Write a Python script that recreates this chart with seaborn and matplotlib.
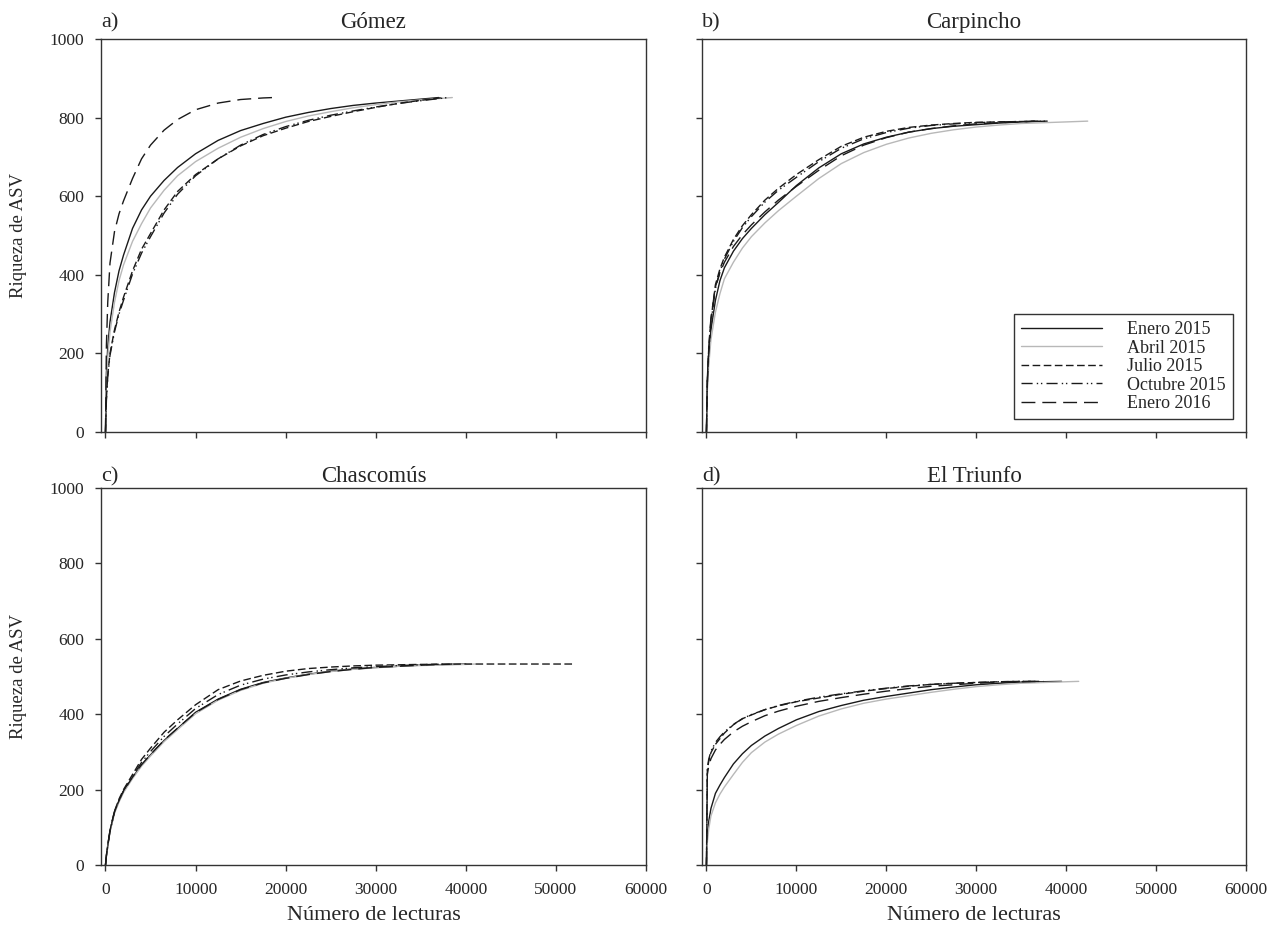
import pandas as pd
import seaborn as sns
import matplotlib.pyplot as plt

sns.set_style("white")
plt.rcParams['font.family'] = ['Liberation Serif', 'DejaVu Serif']

###----- Data -----###
# common read-out grid (number of reads); each curve keeps the points up to its
# own sampling depth, then ends at (end_x, final richness of the site)
grid_x = [0, 100, 250, 500, 1000, 1500, 2000, 3000, 4000, 5000, 6500, 8000, 10000,
          12500, 15000, 17500, 20000, 22500, 25000, 27500, 30000, 32500, 35000,
          40000, 45000, 50000]

samples = ['Enero 2015', 'Abril 2015', 'Julio 2015', 'Octubre 2015', 'Enero 2016']
sites = ['Gómez', 'Carpincho', 'Chascomús', 'El Triunfo']
panel_tags = ['a)', 'b)', 'c)', 'd)']
final_rich = [851, 791, 533, 487]

# a) Gómez
gom_ene15 = [0, 150, 216, 280, 355, 410, 450, 518, 565, 600, 640, 673, 708, 742, 767, 785, 801, 813, 823, 831, 837, 842, 847]
gom_abr15 = [0, 120, 190, 255, 330, 385, 425, 485, 530, 570, 615, 652, 688, 722, 750, 772, 790, 804, 815, 825, 833, 840, 845]
gom_jul15 = [0, 85, 145, 200, 260, 305, 343, 410, 465, 505, 565, 612, 655, 695, 728, 754, 773, 790, 803, 815, 826, 836, 844]
gom_oct15 = [0, 80, 140, 195, 255, 300, 335, 402, 455, 497, 557, 605, 652, 695, 730, 757, 777, 793, 806, 817, 827, 836, 843]
gom_ene16 = [0, 220, 330, 430, 510, 555, 588, 645, 695, 730, 768, 795, 820, 837, 846, 850]
gom_end = [37000, 38500, 37500, 38000, 18600]

# b) Carpincho
car_ene15 = [0, 120, 190, 260, 335, 385, 418, 460, 492, 518, 553, 584, 627, 672, 708, 733, 750, 763, 772, 778, 782, 786, 789]
car_abr15 = [0, 105, 168, 235, 305, 352, 390, 432, 468, 497, 532, 563, 600, 645, 683, 711, 732, 748, 760, 769, 776, 781, 785, 789]
car_jul15 = [0, 135, 210, 285, 375, 415, 445, 490, 525, 553, 590, 620, 655, 693, 727, 750, 765, 775, 781, 785, 788, 789, 790]
car_oct15 = [0, 125, 200, 278, 365, 408, 440, 485, 520, 548, 585, 615, 648, 688, 722, 746, 762, 773, 780, 784, 787, 789, 790]
car_ene16 = [0, 140, 215, 290, 370, 405, 432, 472, 502, 527, 560, 590, 625, 666, 703, 730, 749, 763, 772, 779, 784, 787, 789]
car_end = [37900, 42400, 37000, 38000, 36500]

# c) Chascomús
chas_ene15 = [0, 25, 50, 90, 140, 170, 195, 232, 265, 292, 330, 362, 405, 440, 466, 484, 496, 506, 514, 520, 524, 527, 530]
chas_abr15 = [0, 22, 48, 88, 137, 167, 192, 229, 262, 289, 327, 359, 401, 437, 463, 482, 495, 505, 513, 519, 523, 527, 529, 532]
chas_jul15 = [0, 25, 52, 92, 143, 175, 200, 240, 280, 310, 352, 385, 425, 465, 488, 503, 514, 521, 525, 528, 530, 531, 532, 533, 533, 533]
chas_oct15 = [0, 24, 50, 90, 141, 172, 197, 236, 272, 301, 341, 374, 415, 452, 477, 493, 504, 512, 518, 523, 526, 529, 531]
chas_ene16 = [0, 26, 52, 92, 142, 171, 196, 233, 266, 293, 331, 363, 404, 439, 465, 483, 495, 505, 513, 519, 524, 527, 530]
chas_end = [40000, 41000, 51800, 37500, 38500]

# d) El Triunfo
tri_ene15 = [0, 80, 115, 150, 190, 212, 232, 268, 295, 317, 342, 362, 385, 407, 423, 437, 447, 456, 465, 472, 478, 482, 485]
tri_abr15 = [0, 60, 95, 130, 165, 188, 207, 240, 272, 298, 326, 347, 370, 395, 414, 429, 440, 449, 458, 466, 473, 478, 482, 486]
tri_jul15 = [0, 250, 275, 298, 320, 335, 350, 372, 388, 398, 412, 422, 433, 443, 453, 461, 468, 474, 479, 482, 484, 486, 487]
tri_oct15 = [0, 255, 280, 302, 325, 340, 353, 373, 388, 399, 412, 423, 434, 445, 454, 462, 469, 475, 479, 482, 484, 486, 487]
tri_ene16 = [0, 240, 262, 282, 305, 320, 333, 353, 368, 380, 396, 408, 421, 434, 444, 453, 461, 468, 474, 478, 482, 485, 486]
tri_end = [39500, 41400, 36500, 37500, 37000]

curves = [
    [gom_ene15, gom_abr15, gom_jul15, gom_oct15, gom_ene16],
    [car_ene15, car_abr15, car_jul15, car_oct15, car_ene16],
    [chas_ene15, chas_abr15, chas_jul15, chas_oct15, chas_ene16],
    [tri_ene15, tri_abr15, tri_jul15, tri_oct15, tri_ene16],
]
ends = [gom_end, car_end, chas_end, tri_end]

###----- Build long table -----###
rows = []
for p, site in enumerate(sites):
    for s, sample in enumerate(samples):
        ys = curves[p][s] + [final_rich[p]]
        xs = grid_x[:len(curves[p][s])] + [ends[p][s]]
        for k, (x, y) in enumerate(zip(xs, ys)):
            rows.append({'site': site, 'muestra': sample, 'order': k, 'lecturas': x, 'riqueza': y})
df = pd.DataFrame(rows)

palette = {'Enero 2015': '#1a1a1a', 'Abril 2015': '#b8b8b8', 'Julio 2015': '#1a1a1a',
           'Octubre 2015': '#1a1a1a', 'Enero 2016': '#1a1a1a'}
dashes = {'Enero 2015': '', 'Abril 2015': '', 'Julio 2015': (5.5, 2.5),
          'Octubre 2015': (8, 3, 1, 2, 1, 3), 'Enero 2016': (10, 5)}

###----- Figure -----###
fig = plt.figure(figsize=(12.8, 9.33), dpi=100)
positions = [[0.0789, 0.5370, 0.4258, 0.4212],
             [0.5484, 0.5370, 0.4250, 0.4212],
             [0.0789, 0.0729, 0.4258, 0.4041],
             [0.5484, 0.0729, 0.4250, 0.4041]]
title_pad = [8, 8, 4.5, 4.5]

for i, site in enumerate(sites):
    ax = fig.add_axes(positions[i])
    sub = df[df['site'] == site]
    sns.lineplot(data=sub, x='lecturas', y='riqueza', hue='muestra', style='muestra',
                 units='muestra', estimator=None, sort=False, hue_order=samples,
                 style_order=samples, palette=palette, dashes=dashes, linewidth=1.0,
                 legend=(i == 1), ax=ax)
    ax.set_xlim(-500, 60000)
    ax.set_ylim(0, 1000)
    ax.set_xticks(range(0, 60001, 10000))
    ax.set_yticks(range(0, 1001, 200))
    for sp in ax.spines.values():
        sp.set_color('#333333')
        sp.set_linewidth(1.0)
    ax.tick_params(direction='out', length=4, width=1, color='#333333',
                   labelsize=12.5, pad=8, top=False, right=False, left=True, bottom=True)
    ax.set_title(site, fontsize=16.5, pad=title_pad[i])
    ax.set_title(panel_tags[i], loc='left', fontsize=16, pad=title_pad[i])
    if i in (0, 2):
        ax.set_ylabel('Riqueza de ASV', fontsize=13.5, labelpad=16)
    else:
        ax.set_ylabel('')
        ax.tick_params(labelleft=False)
    if i in (2, 3):
        ax.set_xlabel('Número de lecturas', fontsize=16, labelpad=6)
    else:
        ax.set_xlabel('')
        ax.tick_params(labelbottom=False)
    if i == 1:
        old = ax.get_legend()
        handles = old.legend_handles
        labels = [t.get_text() for t in old.get_texts()]
        for h in handles:
            h.set_linewidth(1.0)
        old.remove()
        leg = ax.legend(handles, labels, loc='lower right', fontsize=13,
                        frameon=True, fancybox=False, framealpha=1,
                        edgecolor='#333333', handlelength=4.5, handletextpad=1.4,
                        labelspacing=0.08, borderpad=0.4, borderaxespad=0.7)
        leg.get_frame().set_linewidth(1.0)

fig.savefig('out.png', dpi=100)
